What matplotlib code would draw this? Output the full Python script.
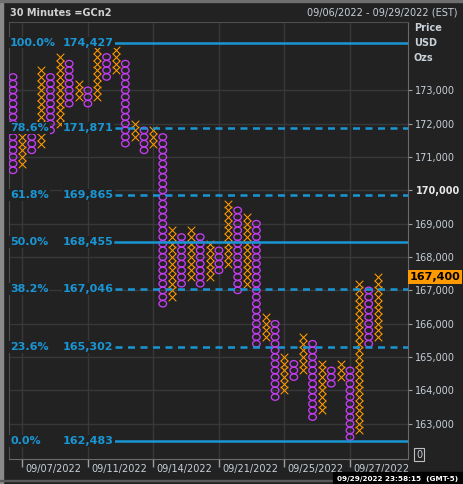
import numpy as np
import matplotlib.pyplot as plt
import matplotlib.transforms as mtransforms
from matplotlib.path import Path
from matplotlib.patches import Rectangle

# point & figure columns (box size 200), left to right
col_type = ['O', 'X'] * 20
col_low = [170600, 170800, 171200, 171400, 171800, 172000, 172600, 172800, 172600, 172800,
           173400, 173600, 171400, 171600, 171200, 171400, 166600, 166800, 167200, 167400,
           167200, 167400, 167600, 167800, 167000, 167200, 165400, 165600, 163800, 164000,
           164400, 164600, 163200, 163400, 164200, 164400, 162600, 162800, 165400, 165600]
col_high = [173400, 171800, 171600, 173600, 173400, 174000, 173800, 173200, 173000, 174200,
            174000, 174200, 173800, 172000, 171800, 171800, 171600, 168800, 168600, 168800,
            168600, 168400, 168200, 169600, 169400, 169200, 169000, 166200, 166000, 165000,
            164800, 165600, 165400, 164800, 164600, 164800, 164600, 167200, 167000, 167400]
box = 200

# fibonacci retracement levels
fib_pct = ['100.0%', '78.6%', '61.8%', '50.0%', '38.2%', '23.6%', '0.0%']
fib_val = [174427, 171871, 169865, 168455, 167046, 165302, 162483]
fib_solid = [True, False, False, True, False, False, True]

date_pos = [1, 8, 15, 22, 29, 36]
date_lbl = ['09/07/2022', '09/11/2022', '09/14/2022', '09/21/2022', '09/25/2022', '09/27/2022']

price_ticks = list(range(163000, 174000, 1000))
last_price = 167400

bg = '#222222'
orange = '#ff9a00'
purple = '#c53ef2'
blue = '#1a96d4'
txt = '#c8d0d8'

fig = plt.figure(figsize=(4.64, 4.84), dpi=100, facecolor=bg)
ax = fig.add_axes([9.5 / 464, 25 / 484, 399 / 464, 437.3 / 484], facecolor=bg)

# slightly wide ellipse for the O's
circ = Path.unit_circle()
o_mark = Path(circ.vertices * [1.0, 0.84], circ.codes)

xs, ys, xo, yo = [], [], [], []
for i, t in enumerate(col_type):
    boxes = np.arange(col_low[i], col_high[i] + 1, box)
    if t == 'X':
        xs += [i] * len(boxes)
        ys += list(boxes)
    else:
        xo += [i] * len(boxes)
        yo += list(boxes)

ax.scatter(xs, ys, marker='x', s=30, color=orange, linewidths=0.75, zorder=3)
ax.scatter(xo, yo, marker=o_mark, s=30, facecolors='none', edgecolors=purple,
           linewidths=0.95, zorder=3)

ax.set_xlim(-0.374, 42.25)
ax.set_ylim(161944, 175057)

# grid
for p in price_ticks:
    ax.axhline(p, color='#383838', lw=1, zorder=1)
for d in date_pos:
    ax.axvline(d, color='#383838', lw=1, zorder=1)

# fib lines and labels
ytrans = ax.get_yaxis_transform()
for pct, val, solid in zip(fib_pct, fib_val, fib_solid):
    ls = '-' if solid else (0, (2.8, 2.2))
    ax.axhline(val, xmin=0.264, xmax=1, color=blue, lw=1.8, ls=ls, zorder=4)
    ax.text(0.0015, val, pct, transform=ytrans, color=blue, fontsize=8, fontweight='bold',
            va='center', ha='left', zorder=5,
            bbox=dict(facecolor=bg, edgecolor='none', pad=0.6))
    ax.text(0.134, val, f'{val:,}', transform=ytrans, color=blue, fontsize=8,
            fontweight='bold', va='center', ha='left', zorder=5,
            bbox=dict(facecolor=bg, edgecolor='none', pad=0.6))

# axes styling
for side in ['left', 'top']:
    ax.spines[side].set_color('#4e4e4e')
for side in ['right', 'bottom']:
    ax.spines[side].set_color('#6a6a6a')

ax.yaxis.tick_right()
ax.set_yticks(price_ticks)
ax.set_yticklabels([f'{p:,}' for p in price_ticks])
ax.tick_params(axis='y', colors='#9aa0a6', labelcolor=txt, labelsize=7, length=3, pad=2)
for lab in ax.get_yticklabels():
    if lab.get_text() == '170,000':
        lab.set_fontweight('bold')
        lab.set_color('#e8e8e8')

ax.set_xticks(date_pos)
ax.set_xticklabels([])
ax.tick_params(axis='x', colors='#9aa0a6', length=6, width=1)
xtrans = ax.get_xaxis_transform() + mtransforms.ScaledTranslation(3 / 100, 0, fig.dpi_scale_trans)
for d, lab in zip(date_pos, date_lbl):
    ax.text(d, -0.0235, lab, transform=xtrans, color=txt, fontsize=7, ha='left', va='center',
            clip_on=False)

# current price marker
ax.text(1.003, last_price, f'{last_price:,}', transform=ytrans, color='black', fontsize=8,
        fontweight='bold', va='center', ha='left', clip_on=False, zorder=6,
        bbox=dict(facecolor=orange, edgecolor='none', boxstyle='square,pad=0.15'))

# right axis units
fig.text(414 / 464, 1 - 28 / 484, 'Price', color=txt, fontsize=7, fontweight='bold', va='center')
fig.text(414 / 464, 1 - 43 / 484, 'USD', color=txt, fontsize=7, fontweight='bold', va='center')
fig.text(414 / 464, 1 - 58 / 484, 'Ozs', color=txt, fontsize=7, fontweight='bold', va='center')
fig.text(419 / 464, 1 - 454.5 / 484, '0', color=txt, fontsize=7, va='center', ha='center',
         bbox=dict(facecolor=bg, edgecolor='#c0c0c0', boxstyle='square,pad=0.15', lw=0.8))

# header
fig.text(10 / 464, 1 - 12.5 / 484, '30 Minutes =GCn2', color='#d0d0d0', fontsize=7,
         fontweight='bold', va='center')
fig.text(458 / 464, 1 - 12.5 / 484, '09/06/2022 - 09/29/2022 (EST)', color=txt, fontsize=7,
         va='center', ha='right')

# window borders and status bar
fig.patches.append(Rectangle((0, 0), 2.5 / 464, 1, transform=fig.transFigure,
                             color='#8a8a8a', zorder=0))
fig.patches.append(Rectangle((0, 1 - 1.5 / 484), 1, 1.5 / 484, transform=fig.transFigure,
                             color='#6e6e6e', zorder=0))
fig.patches.append(Rectangle((0, 3 / 484), 1, 1.5 / 484, transform=fig.transFigure,
                             color='#5a5a5a', zorder=0))
fig.patches.append(Rectangle((333 / 464, 0), 131 / 464, 12.5 / 484, transform=fig.transFigure,
                             color='black', zorder=1))
fig.text(398 / 464, 1 - 478.5 / 484, '09/29/2022 23:58:15  (GMT-5)', color='white',
         fontsize=5.2, fontweight='bold', ha='center', va='center', zorder=2)

fig.savefig('out.png', dpi=100, facecolor=bg)
